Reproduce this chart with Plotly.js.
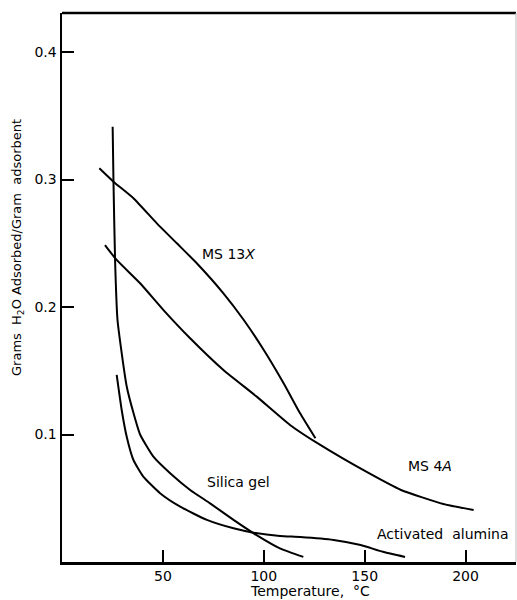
<!DOCTYPE html>
<html>
<head>
<meta charset="utf-8">
<script src="https://cdn.plot.ly/plotly-3.0.1.min.js"></script>
<style>html,body{margin:0;padding:0;background:#fff;}#chart{width:517px;height:600px;}</style>
</head>
<body>
<div id="chart"></div>
<script>
// Temperature (°C) and grams H2O adsorbed / gram adsorbent
var ms13xT = [18.5, 25.5, 35.4, 47, 56.9, 66.8, 80, 90, 100, 109.9, 118, 125.6];
var ms13xW = [0.3088, 0.2983, 0.2853, 0.2656, 0.25, 0.2343, 0.2107, 0.19, 0.1663, 0.140, 0.1166, 0.097];

var ms4aT = [21.3, 27.1, 38.7, 50.3, 63.5, 80, 96.5, 113, 128, 151, 168, 189, 204];
var ms4aW = [0.2486, 0.2369, 0.2186, 0.1976, 0.1755, 0.1506, 0.1297, 0.1075, 0.0918, 0.0706, 0.0565, 0.0455, 0.0408];

var silicaT = [25.1, 25.5, 26.3, 27.5, 29.6, 32.1, 35.4, 38.7, 45.3, 53.6, 63.5, 73.4, 85, 95, 108, 119.6];
var silicaW = [0.3414, 0.2996, 0.2369, 0.190, 0.1637, 0.1375, 0.117, 0.100, 0.0826, 0.0696, 0.0565, 0.046, 0.033, 0.0225, 0.0107, 0.004];

var aluminaT = [27.1, 29.6, 32.1, 35.4, 40.3, 48.6, 58.6, 71.8, 85, 95, 108, 118, 134.6, 148, 159, 170];
var aluminaW = [0.1467, 0.119, 0.098, 0.080, 0.067, 0.054, 0.0434, 0.033, 0.0264, 0.023, 0.0204, 0.0196, 0.0173, 0.0133, 0.008, 0.004];

var xTicks = [50, 100, 150, 200];
var xTickText = ['50', '100', '150', '200'];
var yTicks = [0.1, 0.2, 0.3, 0.4];
var yTickText = ['0.1', '0.2', '0.3', '0.4'];

var curveLabels = ['MS 13<i>X</i>', 'MS 4<i>A</i>', 'Silica gel', 'Activated  alumina'];
var labelX = [82.5, 182.6, 87.7, 188.6];
var labelY = [0.2413, 0.075, 0.0630, 0.0220];

var FONT = 'DejaVu Sans, Verdana, sans-serif';
function tr(x, y) {
  return {x: x, y: y, mode: 'lines', type: 'scatter', showlegend: false, hoverinfo: 'skip',
          line: {color: '#000', width: 2, shape: 'spline', smoothing: 0.5}};
}
var data = [tr(ms13xT, ms13xW), tr(ms4aT, ms4aW), tr(silicaT, silicaW), tr(aluminaT, aluminaW)];

var ann = curveLabels.map(function (t, i) {
  return {x: labelX[i], y: labelY[i], xref: 'x', yref: 'y', text: t, showarrow: false,
          xanchor: 'center', yanchor: 'middle',
          font: {family: FONT, size: 14, color: '#000'}};
});

var L = 62, R = 1, T = 13, B = 38, W = 517, H = 600;
var pw = W - L - R, ph = H - T - B;
ann.push({x: (310 - L) / pw, y: (H - B - 591) / ph, xref: 'paper', yref: 'paper',
          text: 'Temperature,  °C', showarrow: false, xanchor: 'center', yanchor: 'middle',
          font: {family: FONT, size: 14, color: '#000'}});
ann.push({x: (18 - L) / pw, y: (H - B - 248) / ph, xref: 'paper', yref: 'paper',
          text: 'Grams  H<sub>2</sub>O Adsorbed/Gram  adsorbent', showarrow: false, textangle: -90,
          xanchor: 'center', yanchor: 'middle',
          font: {family: FONT, size: 13, color: '#000'}});

var layout = {
  width: W, height: H,
  margin: {l: L, r: R, t: T, b: B},
  paper_bgcolor: '#fff', plot_bgcolor: '#fff',
  xaxis: {range: [0, 225], showgrid: false, zeroline: false, showline: true, linecolor: '#000', linewidth: 2.5,
          ticks: 'inside', ticklen: 12, tickwidth: 2, tickcolor: '#000',
          tickvals: xTicks, ticktext: xTickText, tickfont: {family: FONT, size: 14, color: '#000'}},
  yaxis: {range: [0, 0.4306], showgrid: false, zeroline: false, showline: true, linecolor: '#000', linewidth: 2.5,
          ticks: 'inside', ticklen: 12, tickwidth: 2, tickcolor: '#000',
          tickvals: yTicks, ticktext: yTickText, tickfont: {family: FONT, size: 14, color: '#000'}},
  shapes: [
    {type: 'line', xref: 'paper', yref: 'paper', x0: 0, x1: 1, y0: 1, y1: 1, line: {color: '#000', width: 2.5}},
    {type: 'line', xref: 'paper', yref: 'paper', x0: 1, x1: 1, y0: 0, y1: 1, line: {color: '#bbb', width: 1}}
  ],
  annotations: ann
};
Plotly.newPlot('chart', data, layout, {staticPlot: true});
</script>
</body>
</html>
